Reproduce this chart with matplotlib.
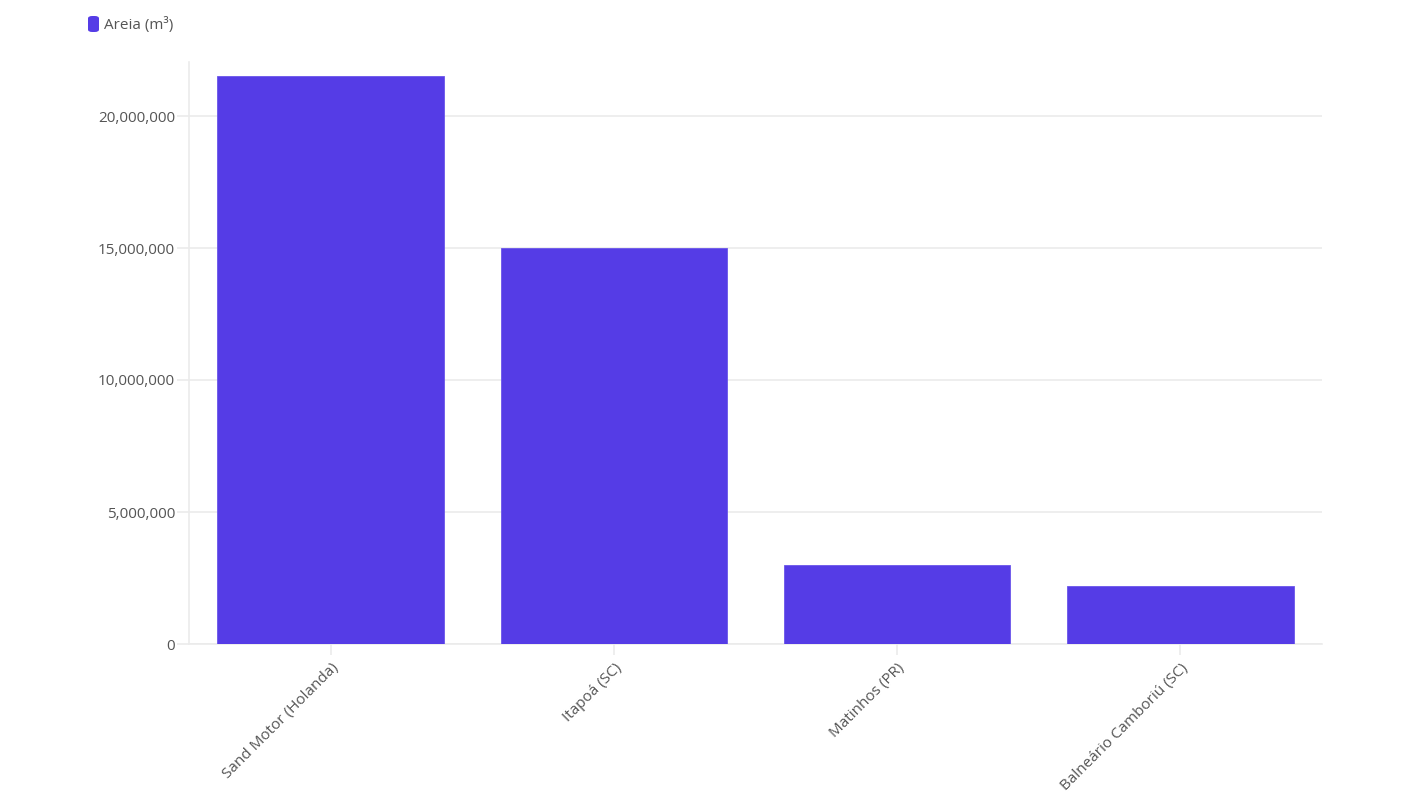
import matplotlib
matplotlib.use("Agg")
import matplotlib.pyplot as plt
from matplotlib.patches import FancyBboxPatch
from matplotlib.ticker import FuncFormatter

categories = ["Sand Motor (Holanda)", "Itapoá (SC)", "Matinhos (PR)", "Balneário Camboriú (SC)"]
values = [21500000, 15000000, 3000000, 2200000]
series_name = "Areia (m³)"
yticks = [0, 5000000, 10000000, 15000000, 20000000]

bar_color = "#553ce6"
text_color = "#555555"
grid_color = "#ebebeb"

plt.rcParams['font.family'] = ['Open Sans', 'DejaVu Sans']

fig = plt.figure(figsize=(14.26, 8.02), dpi=100)
ax = fig.add_axes([189/1426, 1-644/802, (1322-189)/1426, (644-62)/802])

x = list(range(len(categories)))
ax.bar(x, values, width=0.8, color=bar_color, zorder=3, edgecolor="#6a55ea", linewidth=0.6)

ax.set_xlim(-0.5, len(categories) - 0.5)
ax.set_ylim(0, 20000000 + (116-62)/132*5000000)
ax.set_yticks(yticks)
ax.yaxis.set_major_formatter(FuncFormatter(lambda v, p: f"{int(v):,}"))
ax.set_xticks(x)
ax.set_xticklabels(categories, rotation=45, ha="right", rotation_mode="anchor")

ax.grid(axis="y", color=grid_color, linewidth=1.2, zorder=0)
for s in ["top", "right"]:
    ax.spines[s].set_visible(False)
ax.spines["left"].set_color(grid_color)
ax.spines["left"].set_linewidth(1.2)
ax.spines["bottom"].set_color(grid_color)
ax.spines["bottom"].set_linewidth(1.2)
ax.tick_params(axis="y", colors=grid_color, labelcolor=text_color, labelsize=11, length=9, width=1.2, pad=1)
ax.tick_params(axis="x", colors=grid_color, labelcolor=text_color, labelsize=11, length=8, width=1.2, pad=4)

# legend
fig.patches.append(FancyBboxPatch((88/1426, 1-32/802), 11/1426, 16/802,
                                  boxstyle="round,pad=0,rounding_size=0.003",
                                  transform=fig.transFigure, facecolor=bar_color, edgecolor="none"))
fig.text(104/1426, 1-25/802, series_name, color=text_color, fontsize=11, va="center", ha="left")

fig.savefig("out.png", dpi=100, facecolor="white")
